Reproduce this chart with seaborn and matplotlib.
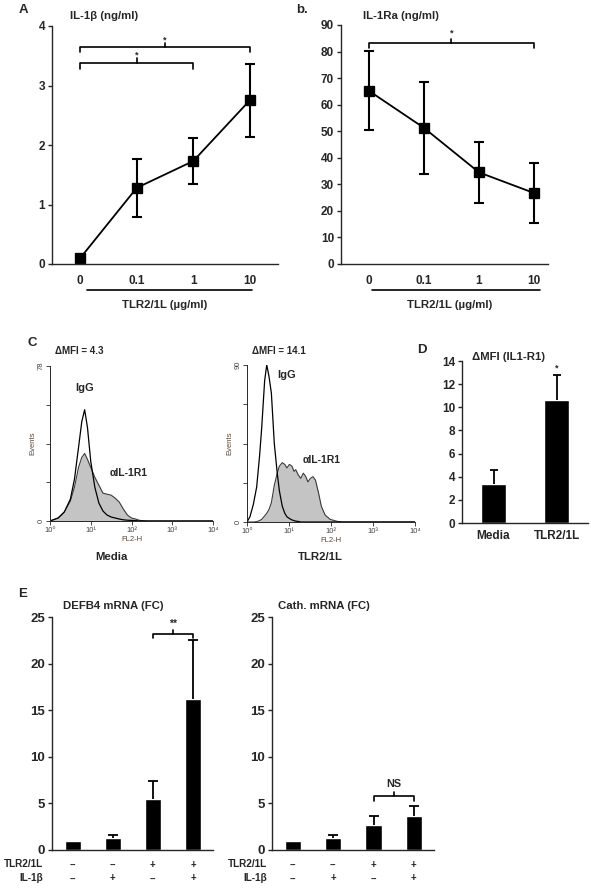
import numpy as np
import pandas as pd
import matplotlib
matplotlib.use("Agg")
import matplotlib.pyplot as plt
from matplotlib.ticker import LogLocator, NullFormatter
import seaborn as sns

# -- Données
doses = ["0", "0.1", "1", "10"]
il1b_mean = [0.10, 1.28, 1.73, 2.75]
il1b_err = [0.0, 0.49, 0.38, 0.61]
il1ra_mean = [65.3, 51.3, 34.5, 26.7]
il1ra_err = [15.0, 17.3, 11.5, 11.3]

# histogrammes FACS (log10 FL2-H, events)
media_log = [0.0, 0.2, 0.35, 0.5, 0.6, 0.7, 0.78, 0.85, 0.92, 1.0, 1.1, 1.2, 1.3,
             1.4, 1.5, 1.6, 1.7, 1.8, 1.9, 2.0, 2.1, 2.2, 2.4, 3.0, 4.0]
media_igg = [0, 1.5, 4.5, 11, 21, 37, 50, 56, 47, 30, 17, 9, 5,
             3, 2, 1.5, 1, 0.6, 0.4, 0.3, 0.2, 0, 0, 0, 0]
media_il1r1 = [0, 1.5, 4.5, 10, 17, 27, 32, 34, 31, 27, 22, 18, 14,
               13.5, 13, 11.5, 9.5, 6, 3, 1.5, 1, 0.3, 0, 0, 0]
media_ymax = 78

tlr_log = [0.0, 0.07, 0.15, 0.23, 0.3, 0.35, 0.42, 0.47, 0.52, 0.58, 0.65, 0.72,
           0.77, 0.84, 0.9, 0.95, 1.01, 1.07, 1.12, 1.16, 1.22, 1.28, 1.34, 1.4,
           1.45, 1.51, 1.57, 1.63, 1.7, 1.77, 1.86, 1.98, 2.16, 2.3, 3.0, 4.0]
tlr_igg = [0, 3, 10, 20, 38, 54, 81, 90, 84, 74, 45, 28,
           18, 9, 5, 3, 2, 1.2, 0.8, 0.5, 0.3, 0, 0, 0,
           0, 0, 0, 0, 0, 0, 0, 0, 0, 0, 0, 0]
tlr_il1r1 = [0, 0, 0, 0.2, 0.8, 1.5, 3.5, 5, 7, 11, 21, 28,
             32, 34, 33, 31, 33, 32, 29, 30, 27, 25, 28, 26,
             23, 25, 26, 24, 17, 9, 4, 1.5, 0.3, 0, 0, 0]
tlr_ymax = 90

dmfi_groups = ["Media", "TLR2/1L"]
dmfi_mean = [3.35, 10.6]
dmfi_err = [1.2, 2.2]

tlr_row = ["--", "--", "+", "+"]
il1b_row = ["--", "+", "--", "+"]
defb4_mean = [0.96, 1.25, 5.43, 16.2]
defb4_err = [0.0, 0.35, 2.0, 6.3]
cath_mean = [0.96, 1.25, 2.68, 3.64]
cath_err = [0.0, 0.35, 0.96, 1.06]

# -- Style
sns.set_style("ticks")
plt.rcParams["font.family"] = ["Liberation Sans", "DejaVu Sans"]
plt.rcParams["font.weight"] = "bold"
plt.rcParams["axes.linewidth"] = 1.0

W, H = 591, 892
fig = plt.figure(figsize=(W / 100, H / 100), dpi=100)


def px_axes(x0, y0, x1, y1):
    return fig.add_axes([x0 / W, 1 - y1 / H, (x1 - x0) / W, (y1 - y0) / H])


def ftext(x, y, s, size=8.2, ha="left", **kw):
    fig.text(x / W, 1 - y / H, s, fontsize=size, ha=ha, va="center", **kw)


def bracket(ax, x0, x1, y, drop, rise, label, label_y, size=7):
    ax.plot([x0, x0, x1, x1], [y - drop, y, y, y - drop], color="black", lw=1.2, clip_on=False)
    xm = (x0 + x1) / 2
    ax.plot([xm, xm], [y, y + rise], color="black", lw=1.2, clip_on=False)
    ax.text(xm, label_y, label, ha="center", va="center", fontsize=size, fontweight="bold")


def style_axes(ax, tsize=8.5):
    sns.despine(ax=ax)
    ax.tick_params(axis="y", direction="out", length=3, width=1, labelsize=tsize, pad=2)
    ax.tick_params(axis="x", length=0, labelsize=tsize)
    ax.set_xlabel("")
    ax.set_ylabel("")


def upper_err(ax, means, errs, cap):
    # barre d'erreur vers le haut seulement
    x = np.arange(len(means))
    top = np.add(means, errs)
    ax.vlines(x, means, top, color="black", lw=1.3)
    keep = np.array(errs) > 0
    ax.plot(x[keep], top[keep], ls="none", marker="_", ms=cap, mew=1.3, color="black")


def dose_line(ax, means, errs, ylim, yticks):
    df = pd.DataFrame({"dose": doses, "val": means})
    ax.errorbar(range(4), means, yerr=errs, fmt="none", ecolor="black",
                elinewidth=1.5, capsize=3.5, capthick=1.5, zorder=1)
    sns.pointplot(data=df, x="dose", y="val", color="black", markers="s",
                  markersize=7, linewidth=1.3, ax=ax)
    style_axes(ax)
    ax.tick_params(axis="x", pad=8)
    ax.set_ylim(*ylim)
    ax.set_yticks(yticks)


# -- Panel A
axA = px_axes(52, 26, 278, 264)
dose_line(axA, il1b_mean, il1b_err, (0, 4), [0, 1, 2, 3, 4])
axA.set_xlim(-0.5, 3.5)
bracket(axA, 0, 3, 3.64, 0.07, 0.08, "*", 3.77, size=6.5)
bracket(axA, 0, 2, 3.37, 0.09, 0.09, "*", 3.52, size=6.5)
axA.plot([0.12, 3.04], [-0.109, -0.109], color="black", lw=1.2,
         transform=axA.get_xaxis_transform(), clip_on=False)
ftext(165, 305, "TLR2/1L (\u00b5g/ml)", ha="center")
ftext(70, 16, "IL-1\u03b2 (ng/ml)")
ftext(19, 10, "A", size=9.5)

# -- Panel b
axB = px_axes(341, 25, 548, 264)
dose_line(axB, il1ra_mean, il1ra_err, (0, 90), range(0, 91, 10))
axB.set_xlim(-0.5, 3.25)
bracket(axB, 0, 3, 83.3, 1.8, 1.4, "*", 86.8, size=6.5)
axB.plot([0.07, 3.1], [-0.109, -0.109], color="black", lw=1.2,
         transform=axB.get_xaxis_transform(), clip_on=False)
ftext(450, 305, "TLR2/1L (\u00b5g/ml)", ha="center")
ftext(363, 16, "IL-1Ra (ng/ml)")
ftext(296, 10, "b.", size=9.5)


# -- Panel C : histogrammes
def flow_hist(ax, logs, igg, il1r1, ymax):
    x = 10 ** np.array(logs)
    ax.fill_between(x, il1r1, color="#c4c4c4", lw=0)
    sns.lineplot(x=x, y=il1r1, color="#3a3a3a", lw=0.8, ax=ax, sort=False)
    sns.lineplot(x=x, y=igg, color="black", lw=0.9, ax=ax, sort=False)
    ax.set_xscale("log")
    ax.set_xlim(1, 1e4)
    ax.set_ylim(0, ymax)
    sns.despine(ax=ax)
    for s in ["left", "bottom"]:
        ax.spines[s].set_linewidth(0.7)
    ax.set_xticks([1, 10, 100, 1000, 10000],
                  ["10\u2070", "10\u00b9", "10\u00b2", "10\u00b3", "10\u2074"],
                  fontweight="normal", fontsize=5.5, color="#444444")
    ax.xaxis.set_minor_locator(LogLocator(base=10, subs=np.arange(2, 10)))
    ax.xaxis.set_minor_formatter(NullFormatter())
    ax.tick_params(axis="x", which="major", length=3, width=0.6, pad=1)
    ax.tick_params(axis="x", which="minor", length=1.5, width=0.5)
    ax.set_yticks(np.linspace(0, ymax, 5), ["0", "", "", "", str(ymax)],
                  fontweight="normal", fontsize=5.5, rotation=90, va="center",
                  color="#444444")
    ax.tick_params(axis="y", length=3, width=0.6, pad=1)
    ax.set_ylabel("Events", fontsize=5.5, fontweight="normal", color="#5a4636", labelpad=1)
    ax.set_xlabel("FL2-H", fontsize=5.5, fontweight="normal", color="#5a4636", labelpad=2)


axC1 = px_axes(50, 366, 213, 521)
flow_hist(axC1, media_log, media_igg, media_il1r1, media_ymax)
axC2 = px_axes(247, 365, 415, 522)
flow_hist(axC2, tlr_log, tlr_igg, tlr_il1r1, tlr_ymax)

ftext(28, 343, "C", size=9.5)
ftext(55, 351, "\u0394MFI = 4.3", size=7)
ftext(252, 351, "\u0394MFI = 14.1", size=7)
ftext(85, 388, "IgG", size=8, ha="center")
ftext(110, 473, "\u03b1IL-1R1", size=7.5)
ftext(277, 375, "IgG", size=8)
ftext(303, 460, "\u03b1IL-1R1", size=7.5)
ftext(111, 557, "Media", ha="center")
ftext(320, 557, "TLR2/1L", ha="center")

# -- Panel D
axD = px_axes(462, 361, 588, 523)
sns.barplot(x=dmfi_groups, y=dmfi_mean, color="black", saturation=1, width=0.4, ax=axD)
upper_err(axD, dmfi_mean, dmfi_err, cap=6)
style_axes(axD)
axD.tick_params(axis="x", pad=5)
axD.set_xlim(-0.5, 1.5)
axD.set_ylim(0, 14)
axD.set_yticks(range(0, 15, 2))
axD.text(1, 13.4, "*", ha="center", va="center", fontsize=6.5, fontweight="bold")
ftext(417, 350, "D", size=9.5)
ftext(472, 357, "\u0394MFI (IL1-R1)")


# -- Panel E
def mrna_bars(ax, means, errs):
    cats = ["c1", "c2", "c3", "c4"]
    sns.barplot(x=cats, y=means, color="black", saturation=1, width=0.4, ax=ax)
    upper_err(ax, means, errs, cap=7)
    style_axes(ax, tsize=9.5)
    ax.set_xlim(-0.52, 3.5)
    ax.set_ylim(0, 25)
    ax.set_yticks(range(0, 26, 5))
    ax.set_xticks(range(4), [""] * 4)
    tr = ax.get_xaxis_transform()
    for i in range(4):
        ax.text(i, -0.064, tlr_row[i], transform=tr, ha="center", va="center", fontsize=7)
        ax.text(i, -0.122, il1b_row[i], transform=tr, ha="center", va="center", fontsize=7)


axE1 = px_axes(52, 617, 213, 850)
mrna_bars(axE1, defb4_mean, defb4_err)
bracket(axE1, 2, 3, 23.2, 0.45, 0.45, "**", 24.3, size=7.5)
axE2 = px_axes(272, 617, 434, 850)
mrna_bars(axE2, cath_mean, cath_err)
bracket(axE2, 2, 3, 5.8, 0.5, 0.45, "NS", 7.1, size=7.8)

ftext(18, 594, "E", size=9.5)
ftext(63, 606, "DEFB4 mRNA (FC)")
ftext(278, 606, "Cath. mRNA (FC)")
for xr in (43, 267):
    ftext(xr, 864, "TLR2/1L", size=7.2, ha="right")
    ftext(xr, 878, "IL-1\u03b2", size=7.2, ha="right")

fig.savefig("out.png", dpi=100)
